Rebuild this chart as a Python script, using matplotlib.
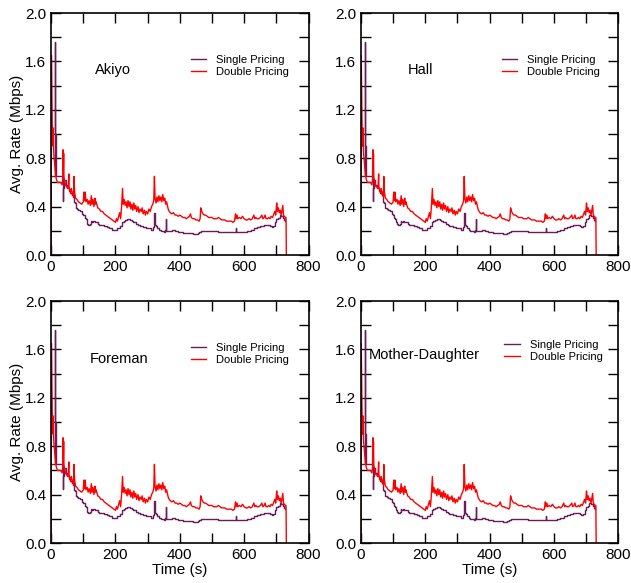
import matplotlib
matplotlib.use("Agg")
import matplotlib.pyplot as plt
from matplotlib.ticker import MultipleLocator

plt.rcParams['font.family'] = ['Liberation Sans', 'DejaVu Sans']

# double pricing (red)
t_double = [0, 1, 3, 4, 5, 6, 7, 8, 10, 12, 14, 16, 20, 25, 30, 34, 36, 37, 38, 39,
            40, 43, 46, 50, 53, 55, 56, 60, 63, 66, 68, 70, 71, 73, 76, 80, 85, 90, 95, 100,
            102, 104, 106, 108, 112, 115, 118, 122, 125, 127, 130, 133, 136, 138, 140, 145,
            150, 155, 160, 165, 170, 175, 180, 185, 190, 195, 200, 203, 206, 210, 213, 216,
            219, 222, 224, 227, 230, 233, 236, 239, 242, 245, 248, 251, 254, 257, 260, 263,
            266, 270, 273, 276, 280, 283, 286, 290, 293, 296, 300, 304, 308, 312, 316, 319,
            321, 323, 326, 329, 332, 335, 338, 341, 344, 347, 350, 353, 356, 359, 362, 365,
            370, 375, 380, 385, 390, 395, 400, 405, 410, 415, 420, 425, 430, 433, 436, 440,
            445, 450, 455, 460, 463, 465, 468, 472, 476, 480, 485, 490, 495, 500, 505, 510,
            515, 520, 525, 530, 535, 540, 545, 550, 555, 560, 565, 570, 573, 575, 578, 580,
            585, 590, 595, 600, 605, 610, 615, 620, 625, 630, 633, 636, 640, 645, 650, 655,
            658, 662, 665, 668, 672, 676, 680, 684, 688, 692, 695, 698, 701, 703, 706, 709,
            712, 715, 718, 720, 722, 725, 728, 730, 731]
double = [0.0, 1.65, 1.2, 0.95, 1.05, 0.9, 1.05, 0.85, 0.78, 0.72, 0.66, 0.63, 0.6, 0.6, 0.6, 0.58, 0.62, 0.87, 0.7, 0.84,
          0.64, 0.6, 0.57, 0.56, 0.55, 0.67, 0.56, 0.52, 0.55, 0.5, 0.52, 0.48, 0.65, 0.52, 0.47, 0.46, 0.44, 0.43, 0.42, 0.44,
          0.52, 0.45, 0.52, 0.44, 0.46, 0.42, 0.45, 0.41, 0.49, 0.42, 0.46, 0.4, 0.47, 0.42, 0.44, 0.39,
          0.38, 0.36, 0.36, 0.34, 0.33, 0.32, 0.31, 0.3, 0.29, 0.28, 0.27, 0.3, 0.28, 0.32, 0.35, 0.3,
          0.4, 0.55, 0.42, 0.46, 0.41, 0.44, 0.39, 0.45, 0.4, 0.44, 0.38, 0.42, 0.37, 0.43, 0.38, 0.41,
          0.36, 0.4, 0.35, 0.38, 0.36, 0.39, 0.34, 0.37, 0.33, 0.36, 0.34, 0.38, 0.36, 0.4, 0.42, 0.45,
          0.65, 0.47, 0.43, 0.48, 0.44, 0.49, 0.45, 0.48, 0.44, 0.5, 0.45, 0.47, 0.42, 0.44, 0.4, 0.37,
          0.35, 0.34, 0.35, 0.33, 0.33, 0.32, 0.33, 0.32, 0.31, 0.31, 0.3, 0.31, 0.32, 0.34, 0.31, 0.3,
          0.3, 0.29, 0.29, 0.28, 0.3, 0.39, 0.36, 0.34, 0.33, 0.33, 0.32, 0.31, 0.31, 0.31, 0.3, 0.3,
          0.3, 0.31, 0.3, 0.29, 0.29, 0.29, 0.28, 0.28, 0.28, 0.28, 0.27, 0.28, 0.34, 0.3, 0.33, 0.3,
          0.31, 0.3, 0.32, 0.3, 0.29, 0.29, 0.3, 0.29, 0.3, 0.33, 0.3, 0.31, 0.3, 0.3, 0.31, 0.33,
          0.3, 0.31, 0.33, 0.3, 0.3, 0.31, 0.3, 0.32, 0.31, 0.34, 0.36, 0.33, 0.43, 0.36, 0.39, 0.35,
          0.37, 0.33, 0.38, 0.41, 0.33, 0.32, 0.31, 0.31, 0.0]

# single pricing (purple)
t_single = [0, 11, 12, 13, 14, 15, 16, 35, 36, 37, 38, 40, 45, 50, 55, 60, 65, 68, 70, 73,
            76, 80, 85, 90, 95, 100, 104, 107, 110, 113, 116, 120, 123, 126, 130, 135, 140, 145,
            150, 155, 160, 165, 170, 175, 180, 185, 190, 195, 200, 205, 210, 215, 220, 225,
            230, 235, 240, 245, 250, 255, 260, 265, 270, 275, 280, 285, 290, 295, 300, 305,
            310, 315, 318, 320, 321, 322, 325, 330, 335, 340, 345, 350, 355, 357, 358, 360,
            365, 370, 375, 380, 385, 390, 395, 400, 410, 420, 430, 440, 450, 455, 460, 465,
            470, 480, 490, 500, 510, 520, 530, 540, 550, 560, 570, 574, 575, 576, 580, 590,
            600, 610, 620, 630, 640, 650, 660, 670, 680, 685, 690, 695, 700, 705, 710, 715,
            720, 725, 727]
single = [0.65, 0.65, 1.76, 1.0, 0.9, 0.7, 0.65, 0.65, 0.6, 0.45, 0.55, 0.62, 0.58, 0.55, 0.53, 0.51, 0.5, 0.48, 0.44, 0.43,
          0.39, 0.38, 0.37, 0.36, 0.34, 0.33, 0.31, 0.3, 0.27, 0.26, 0.25, 0.26, 0.28, 0.27, 0.28, 0.27, 0.27, 0.26,
          0.25, 0.25, 0.25, 0.24, 0.24, 0.23, 0.22, 0.22, 0.21, 0.21, 0.21, 0.22, 0.22, 0.24, 0.27, 0.28,
          0.29, 0.3, 0.3, 0.29, 0.28, 0.27, 0.27, 0.26, 0.25, 0.24, 0.24, 0.23, 0.23, 0.22, 0.22, 0.22,
          0.21, 0.21, 0.23, 0.26, 0.35, 0.25, 0.24, 0.22, 0.21, 0.2, 0.2, 0.19, 0.21, 0.3, 0.2, 0.2,
          0.2, 0.2, 0.21, 0.21, 0.2, 0.2, 0.19, 0.19, 0.18, 0.18, 0.18, 0.17, 0.17, 0.18, 0.19, 0.2,
          0.2, 0.2, 0.2, 0.2, 0.2, 0.19, 0.19, 0.19, 0.19, 0.19, 0.19, 0.19, 0.22, 0.19, 0.19, 0.19,
          0.19, 0.2, 0.21, 0.22, 0.23, 0.24, 0.25, 0.25, 0.24, 0.23, 0.24, 0.27, 0.3, 0.31, 0.33, 0.32,
          0.31, 0.29, 0.28]

titles = ["Akiyo", "Hall", "Foreman", "Mother-Daughter"]
title_pos = [(0.17, 0.765), (0.18, 0.765), (0.15, 0.76), (0.03, 0.775)]
legend_pos = [(0.52, 0.85), (0.525, 0.85), (0.52, 0.85), (0.535, 0.862)]

red = '#ff0000'
purple = '#6a1b5a'

fig = plt.figure(figsize=(6.31, 5.83), dpi=100)
lefts = [0.081, 0.572, 0.081, 0.572]
bottoms = [0.5626, 0.5626, 0.0686, 0.0686]

for i in range(4):
    ax = fig.add_axes([lefts[i], bottoms[i], 0.408, 0.415])
    ax.plot(t_single, single, color=purple, lw=1.0, label='Single Pricing', drawstyle='steps-post')
    ax.plot(t_double, double, color=red, lw=1.0, label='Double Pricing')
    ax.set_xlim(0, 800)
    ax.set_ylim(0, 2.0)
    ax.xaxis.set_major_locator(MultipleLocator(200))
    ax.xaxis.set_minor_locator(MultipleLocator(100))
    ax.yaxis.set_major_locator(MultipleLocator(0.4))
    ax.yaxis.set_minor_locator(MultipleLocator(0.2))
    ax.set_yticklabels([f"{v:.1f}" for v in ax.get_yticks()])
    ax.tick_params(which='both', direction='in', top=True, right=True, labelsize=11)
    ax.tick_params(which='major', length=7, width=1)
    ax.tick_params(which='minor', length=7, width=1)
    for s in ax.spines.values():
        s.set_linewidth(1.2)
    ax.text(title_pos[i][0], title_pos[i][1], titles[i], transform=ax.transAxes,
            fontsize=10.5, va='center', ha='left')
    ax.legend(loc='upper left', bbox_to_anchor=legend_pos[i], frameon=False, fontsize=8,
              handlelength=1.4, handletextpad=0.9, labelspacing=0.15, borderpad=0)
    if i % 2 == 0:
        ax.set_ylabel('Avg. Rate (Mbps)', fontsize=11, labelpad=1)
    if i >= 2:
        ax.set_xlabel('Time (s)', fontsize=11, labelpad=1)

fig.savefig('out.png', dpi=100)
